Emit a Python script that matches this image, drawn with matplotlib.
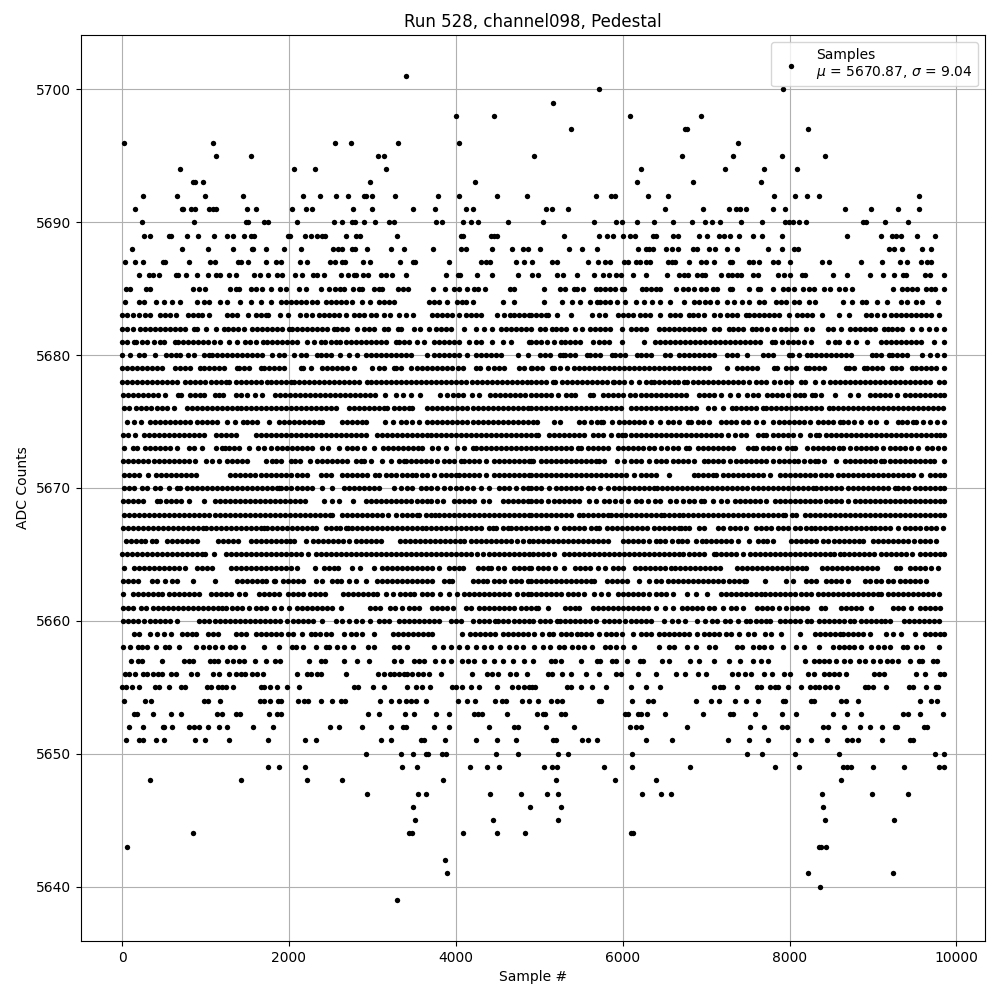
import matplotlib
matplotlib.use("Agg")
import matplotlib.pyplot as plt

# sample numbers, one list per ADC level
s5639 = [3296]
s5640 = [8364]
s5641 = [3896, 8220, 9240]
s5642 = [3872]
s5643 = [56, 8352, 8376, 8436]
s5644 = [848, 3440, 3476, 4088, 4496, 4832, 6096, 6120]
s5645 = [3512, 4448, 5220, 8424, 9252]
s5646 = [3488, 4892, 5256, 8400]
s5647 = [2936, 3548, 3644, 4412, 4784, 5088, 5220, 6228, 6456, 6576, 8388, 8988, 9420]
s5648 = [332, 1424, 2216, 2636, 3848, 5196, 5904, 6396, 8616]
s5649 = [1748, 1880, 2192, 3356, 3536, 4172, 4376, 4520, 5052, 5148, 5208, 5772, 6108, 6804, 7824, 8112, 8640, 8688, 8736, 9000, 9372, 9792, 9850]
s5650 = [2924, 3344, 3488, 3644, 3668, 3836, 3884, 4484, 4748, 5220, 5340, 6108, 7488, 7668, 8064, 8592, 9744, 9850]
s5651 = [44, 200, 248, 404, 500, 872, 992, 1280, 1748, 2192, 2324, 3104, 3224, 3584, 3620, 3872, 4244, 4496, 4724, 5160, 5196, 5508, 5580, 5688, 6276, 6588, 7260, 7512, 7740, 8100, 8256, 8448, 8688, 8748, 8820, 9108, 9444, 9480]
s5652 = [80, 248, 488, 500, 596, 800, 860, 920, 1028, 1160, 1256, 1568, 1808, 2492, 2600, 2876, 3224, 3368, 3404, 3740, 3920, 4400, 4700, 4748, 5076, 5412, 6084, 6156, 6216, 6768, 7524, 7692, 7908, 7968, 8400, 8460, 8652, 8844, 8964, 9108, 9264, 9288, 9612, 9648]
s5653 = [140, 176, 368, 584, 704, 1136, 1196, 1364, 1412, 1760, 1856, 1904, 2948, 3080, 3392, 3496, 3764, 3920, 4220, 4268, 4316, 4616, 4972, 5044, 5068, 5256, 5304, 6024, 6060, 6180, 6216, 6288, 6504, 6964, 7284, 7320, 7584, 7908, 8076, 8520, 8688, 8856, 9360, 9420, 9564, 9840]
s5654 = [20, 272, 344, 980, 1028, 1172, 1652, 1700, 1772, 1868, 1904, 2108, 2180, 2228, 2384, 2516, 2624, 2672, 3092, 3224, 3320, 3404, 3464, 3524, 3644, 4028, 4136, 4232, 4472, 4556, 4604, 4796, 4872, 4980, 5136, 5208, 5268, 5712, 5736, 6108, 6300, 6360, 6876, 7056, 7152, 7344, 7476, 7620, 7920, 7944, 8256, 8292, 8616, 8676, 8820, 9564, 9696, 9768]
s5655 = [0, 44, 116, 200, 392, 440, 560, 704, 752, 1016, 1064, 1148, 1196, 1244, 1328, 1664, 1700, 1772, 1852, 1976, 2120, 2780, 2828, 3008, 3140, 3416, 3524, 3596, 3692, 3956, 4004, 4076, 4184, 4280, 4496, 4676, 4748, 4820, 4880, 4908, 4944, 5328, 5376, 5496, 5628, 5796, 6096, 6276, 6444, 7092, 7164, 7200, 7368, 7608, 7656, 7764, 7824, 7860, 7980, 8136, 8244, 8304, 8352, 8424, 8484, 8568, 8904, 8940, 9000, 9156, 9432, 9480, 9636, 9756, 9780]
s5656 = [32, 80, 160, 248, 296, 368, 428, 476, 584, 644, 824, 896, 1088, 1160, 1280, 1364, 1424, 1472, 1556, 1616, 1688, 2096, 2216, 2264, 2336, 2384, 2684, 3068, 3140, 3212, 3260, 3320, 3380, 3416, 3476, 3548, 3608, 3680, 3824, 4196, 4376, 4436, 4508, 4652, 4724, 4856, 5100, 5148, 5268, 5376, 5556, 5712, 5916, 5976, 6180, 6396, 6636, 6744, 6900, 6996, 7308, 7380, 7464, 7536, 7692, 7788, 7932, 8004, 8220, 8292, 8412, 8472, 8532, 8592, 8676, 9012, 9072, 9132, 9516, 9624, 9804, 9850]
s5657 = [104, 188, 236, 476, 740, 800, 848, 1052, 1100, 1148, 1256, 1328, 1400, 1460, 1592, 1724, 1832, 1892, 2240, 2384, 2432, 2660, 2816, 2960, 3260, 3344, 3500, 3560, 3620, 3752, 3848, 3944, 4076, 4148, 4220, 4340, 4460, 4568, 4688, 4820, 4920, 5136, 5184, 5256, 5496, 5688, 5724, 5868, 5916, 6048, 6204, 6240, 6468, 6552, 6804, 6912, 7092, 7272, 7404, 7560, 7656, 7740, 8184, 8292, 8352, 8412, 8472, 8556, 8652, 8724, 8832, 8904, 9000, 9084, 9168, 9228, 9300, 9444, 9552, 9588, 9720, 9768]
s5658 = [8, 92, 188, 240, 296, 404, 512, 560, 680, 884, 968, 1040, 1112, 1196, 1292, 1352, 1448, 1700, 1880, 2036, 2084, 2168, 2324, 2444, 2480, 2576, 2660, 2768, 2948, 3020, 3260, 3320, 3416, 3740, 3848, 3944, 4040, 4136, 4240, 4340, 4424, 4532, 4640, 4724, 4808, 4932, 5040, 5124, 5232, 5292, 5392, 5460, 5532, 5628, 5784, 5844, 5916, 6000, 6140, 6432, 6552, 6612, 6768, 6876, 7032, 7104, 7368, 7428, 7560, 7632, 7692, 7776, 7920, 8076, 8172, 8352, 8520, 8592, 8652, 8712, 8772, 8856, 8976, 9060, 9132, 9204, 9360, 9408, 9516, 9588, 9792]
s5659 = [148, 208, 340, 420, 500, 588, 716, 776, 836, 892, 1028, 1088, 1148, 1360, 1420, 1480, 1608, 1668, 1728, 1788, 1848, 1900, 1988, 2050, 2160, 2268, 2308, 2370, 2440, 2500, 2660, 2748, 2808, 2880, 3020, 3248, 3308, 3368, 3428, 3488, 3548, 3608, 3670, 3720, 4080, 4168, 4228, 4288, 4348, 4408, 4464, 4560, 4620, 4680, 4740, 4800, 4860, 4940, 5032, 5112, 5168, 5260, 5320, 5380, 5450, 5500, 5560, 5620, 5710, 5800, 5860, 5920, 5990, 6120, 6220, 6280, 6340, 6440, 6500, 6560, 6620, 6680, 6740, 6800, 6890, 6980, 7040, 7100, 7160, 7240, 7300, 7390, 7500, 7572, 7700, 7780, 7900, 8120, 8300, 8360, 8420, 8480, 8540, 8600, 8640, 8700, 8760, 8820, 8880, 8960, 9160, 9240, 9330, 9500, 9620, 9680, 9740, 9800, 9850]
s5660 = [8, 68, 128, 188, 260, 336, 396, 456, 516, 576, 660, 928, 988, 1048, 1108, 1168, 1228, 1288, 1348, 1408, 1468, 1528, 1588, 1648, 1708, 1768, 1828, 1888, 1980, 2052, 2112, 2172, 2232, 2292, 2400, 2560, 2640, 2720, 2800, 2880, 2972, 3080, 3140, 3200, 3320, 3380, 3440, 3500, 3560, 3620, 3680, 3740, 3800, 3948, 4004, 4064, 4208, 4280, 4340, 4400, 4470, 4500, 4560, 4620, 4700, 4760, 4820, 4880, 4920, 5012, 5072, 5132, 5212, 5252, 5312, 5372, 5432, 5492, 5552, 5612, 5680, 5772, 5840, 5900, 5960, 6024, 6100, 6160, 6220, 6280, 6340, 6490, 6590, 6664, 6752, 6892, 6985, 7072, 7132, 7230, 7280, 7380, 7480, 7530, 7600, 7660, 7720, 7768, 7880, 7940, 8000, 8060, 8120, 8210, 8258, 8356, 8416, 8476, 8536, 8596, 8656, 8720, 8770, 8860, 8920, 8980, 9040, 9100, 9140, 9200, 9372, 9430, 9490, 9550, 9610, 9670, 9730, 9792]
s5661 = [8, 68, 128, 228, 288, 368, 428, 488, 548, 608, 668, 728, 788, 848, 908, 968, 1028, 1088, 1148, 1200, 1248, 1320, 1376, 1432, 1520, 1600, 1660, 1728, 1816, 1900, 2000, 2092, 2152, 2212, 2272, 2332, 2392, 2452, 2516, 2628, 2976, 3036, 3096, 3216, 3272, 3360, 3440, 3500, 3560, 3720, 3780, 3840, 3900, 3968, 4120, 4180, 4276, 4336, 4396, 4456, 4516, 4576, 4636, 4696, 4780, 4840, 4900, 4960, 4990, 5104, 5304, 5364, 5424, 5480, 5640, 5700, 5760, 5820, 5880, 5940, 6000, 6060, 6120, 6180, 6240, 6300, 6396, 6508, 6608, 6712, 6772, 6832, 6892, 6952, 7040, 7100, 7204, 7300, 7360, 7444, 7612, 7672, 7732, 7792, 7872, 7960, 8032, 8092, 8152, 8208, 8372, 8420, 8620, 8680, 8740, 8800, 8860, 8972, 9240, 9300, 9360, 9452, 9560, 9620, 9680, 9740, 9800]
s5662 = [8, 128, 188, 248, 308, 368, 428, 480, 568, 628, 688, 748, 808, 868, 928, 1068, 1128, 1188, 1248, 1304, 1400, 1472, 1640, 1700, 1760, 1820, 1880, 1990, 2050, 2110, 2168, 2256, 2316, 2376, 2432, 2648, 2708, 2768, 2828, 2888, 2948, 3008, 3060, 3160, 3248, 3328, 3388, 3448, 3500, 3596, 3656, 3710, 3808, 3920, 4012, 4100, 4160, 4220, 4280, 4340, 4400, 4460, 4520, 4580, 4640, 4732, 4800, 4860, 4900, 4960, 5020, 5080, 5140, 5200, 5260, 5344, 5404, 5460, 5540, 5652, 5736, 5820, 5940, 6000, 6060, 6120, 6180, 6240, 6320, 6400, 6460, 6520, 6600, 6768, 6880, 7016, 7176, 7236, 7300, 7352, 7412, 7472, 7532, 7592, 7652, 7704, 7760, 7824, 7884, 7940, 8000, 8060, 8136, 8196, 8256, 8340, 8400, 8460, 8520, 8580, 8640, 8700, 8760, 8820, 8880, 8940, 9000, 9060, 9100, 9184, 9244, 9304, 9364, 9424, 9484, 9544, 9604, 9664, 9724, 9790]
s5663 = [8, 68, 128, 192, 364, 416, 520, 600, 660, 848, 1108, 1380, 1440, 1500, 1560, 1620, 1680, 1720, 1816, 1832, 1932, 1992, 2052, 2112, 2168, 2328, 2400, 2520, 2572, 2628, 2720, 2800, 2920, 3060, 3120, 3180, 3240, 3300, 3360, 3420, 3480, 3540, 3600, 3660, 3720, 3860, 3920, 3960, 4200, 4260, 4320, 4372, 4460, 4520, 4580, 4660, 4720, 4780, 4860, 4900, 4960, 5020, 5080, 5140, 5200, 5260, 5320, 5380, 5440, 5500, 5560, 5620, 5660, 5812, 5872, 5932, 5992, 6052, 6200, 6320, 6400, 6460, 6544, 6604, 6664, 6724, 6784, 6844, 6908, 6968, 7028, 7088, 7148, 7208, 7268, 7328, 7388, 7448, 7480, 7700, 7960, 8040, 8200, 8260, 8320, 8440, 8500, 8560, 8620, 8700, 8900, 8960, 9040, 9100, 9180, 9240, 9320, 9380, 9440, 9500, 9560, 9630]
s5664 = [28, 148, 208, 268, 328, 388, 448, 508, 568, 628, 688, 760, 904, 964, 1024, 1080, 1300, 1360, 1420, 1480, 1540, 1600, 1660, 1720, 1780, 1840, 1900, 1960, 2020, 2100, 2318, 2416, 2476, 2536, 2590, 2760, 2848, 3020, 3120, 3180, 3240, 3300, 3360, 3420, 3480, 3540, 3600, 3660, 3720, 3800, 3920, 3980, 4040, 4090, 4260, 4320, 4380, 4420, 4500, 4580, 4700, 4760, 4820, 4880, 4900, 4980, 5040, 5104, 5192, 5300, 5428, 5488, 5548, 5608, 5700, 5792, 5884, 5948, 6000, 6148, 6208, 6268, 6328, 6388, 6448, 6508, 6580, 6628, 6688, 6748, 6808, 6868, 6928, 6988, 7048, 7108, 7172, 7368, 7428, 7488, 7548, 7608, 7668, 7728, 7788, 7848, 7908, 7968, 8028, 8088, 8148, 8200, 8392, 8452, 8512, 8572, 8632, 8692, 8752, 8812, 8872, 8932, 8992, 9050, 9270, 9320, 9440, 9500, 9560, 9620, 9690, 9780]
s5665 = [0, 60, 120, 180, 240, 300, 360, 420, 480, 540, 600, 660, 720, 780, 840, 900, 960, 1000, 1100, 1240, 1300, 1360, 1420, 1480, 1540, 1600, 1660, 1720, 1780, 1840, 1900, 1960, 2020, 2080, 2140, 2230, 2320, 2380, 2440, 2500, 2560, 2620, 2680, 2740, 2800, 2860, 2920, 2980, 3040, 3100, 3160, 3220, 3280, 3340, 3400, 3460, 3520, 3580, 3640, 3700, 3760, 3820, 3880, 3940, 4000, 4060, 4120, 4180, 4250, 4320, 4400, 4460, 4520, 4580, 4640, 4700, 4760, 4820, 4880, 4920, 4980, 5040, 5100, 5180, 5296, 5356, 5416, 5476, 5536, 5596, 5656, 5716, 5776, 5836, 5896, 5956, 6016, 6076, 6140, 6200, 6260, 6320, 6380, 6440, 6500, 6560, 6620, 6680, 6720, 6792, 6850, 6910, 6980, 7090, 7120, 7180, 7240, 7300, 7360, 7440, 7520, 7580, 7640, 7700, 7760, 7820, 7880, 7940, 8000, 8060, 8120, 8180, 8240, 8300, 8370, 8420, 8480, 8530, 8600, 8650, 8710, 8770, 8830, 8890, 8950, 9010, 9100, 9160, 9220, 9280, 9340, 9400, 9470, 9560, 9620, 9680, 9740, 9800, 9850]
s5666 = [48, 108, 168, 228, 280, 360, 412, 536, 596, 656, 716, 776, 836, 896, 1148, 1208, 1268, 1328, 1388, 1540, 1600, 1660, 1720, 1780, 1840, 1900, 1960, 2012, 2060, 2200, 2292, 2350, 2410, 2470, 2530, 2590, 2650, 2720, 2808, 2868, 2928, 2988, 3048, 3108, 3328, 3388, 3448, 3508, 3568, 3628, 3688, 3748, 3808, 3868, 3928, 3988, 4048, 4100, 4180, 4240, 4300, 4360, 4420, 4480, 4540, 4600, 4660, 4730, 4800, 4880, 4920, 4990, 5044, 5104, 5164, 5224, 5284, 5344, 5404, 5464, 5524, 5584, 5644, 5704, 5764, 5824, 6000, 6060, 6120, 6180, 6240, 6320, 6400, 6450, 6510, 6590, 6668, 6708, 6768, 6880, 6950, 7004, 7064, 7124, 7184, 7244, 7300, 7380, 7512, 7620, 7680, 7730, 7800, 8020, 8080, 8140, 8200, 8260, 8320, 8400, 8460, 8530, 8590, 8650, 8710, 8770, 8830, 8880, 9000, 9060, 9120, 9180, 9240, 9300, 9360, 9420, 9490, 9560, 9620, 9680, 9760]
s5667 = [8, 68, 128, 188, 248, 308, 368, 428, 488, 548, 608, 668, 728, 788, 848, 908, 968, 1008, 1064, 1124, 1184, 1244, 1304, 1364, 1424, 1484, 1544, 1604, 1664, 1700, 1740, 1800, 1860, 1920, 1980, 2040, 2100, 2160, 2220, 2280, 2320, 2448, 2508, 2568, 2608, 2680, 2708, 2760, 2820, 2880, 2940, 3000, 3060, 3120, 3180, 3240, 3300, 3360, 3420, 3480, 3540, 3600, 3640, 3700, 3760, 3820, 3880, 3940, 4000, 4060, 4120, 4180, 4240, 4300, 4400, 4440, 4480, 4560, 4620, 4660, 4720, 4780, 4840, 4900, 4960, 5020, 5080, 5110, 5200, 5292, 5352, 5412, 5472, 5532, 5620, 5680, 5720, 5810, 5870, 5930, 5990, 6050, 6110, 6170, 6230, 6290, 6370, 6430, 6490, 6550, 6610, 6670, 6700, 6748, 6800, 6912, 6980, 7140, 7200, 7280, 7340, 7400, 7480, 7600, 7660, 7720, 7780, 7860, 7920, 7980, 8060, 8120, 8200, 8260, 8300, 8360, 8420, 8480, 8500, 8560, 8620, 8680, 8740, 8800, 8860, 8920, 8980, 9020, 9080, 9140, 9200, 9300, 9380, 9440, 9500, 9560, 9640, 9700, 9760, 9840]
s5668 = [28, 88, 148, 208, 268, 328, 388, 448, 508, 568, 628, 688, 748, 808, 868, 928, 988, 1048, 1108, 1168, 1228, 1288, 1348, 1408, 1468, 1528, 1588, 1648, 1708, 1768, 1828, 1888, 1948, 2008, 2068, 2128, 2188, 2248, 2308, 2368, 2428, 2488, 2520, 2640, 2700, 2760, 2820, 2880, 2940, 3000, 3060, 3120, 3188, 3280, 3360, 3420, 3480, 3540, 3560, 3640, 3700, 3752, 3800, 3860, 3920, 3980, 4040, 4100, 4160, 4220, 4280, 4340, 4400, 4460, 4520, 4580, 4640, 4700, 4760, 4820, 4880, 4900, 4960, 5020, 5080, 5140, 5200, 5260, 5320, 5380, 5480, 5520, 5580, 5640, 5700, 5760, 5820, 5860, 5920, 5980, 6040, 6100, 6160, 6220, 6280, 6340, 6400, 6460, 6500, 6560, 6620, 6680, 6720, 6780, 6840, 6900, 6960, 7020, 7080, 7140, 7200, 7260, 7320, 7380, 7440, 7500, 7560, 7620, 7680, 7740, 7800, 7860, 7920, 7944, 8032, 8080, 8180, 8240, 8300, 8360, 8420, 8480, 8540, 8600, 8660, 8720, 8780, 8840, 8900, 8960, 9020, 9080, 9140, 9200, 9260, 9320, 9380, 9440, 9500, 9560, 9620, 9680, 9740, 9800, 9850]
s5669 = [8, 68, 128, 188, 250, 420, 460, 530, 590, 650, 710, 800, 988, 1108, 1168, 1228, 1288, 1348, 1408, 1468, 1528, 1588, 1648, 1708, 1768, 1828, 1888, 1948, 2008, 2068, 2128, 2188, 2420, 2520, 2600, 2768, 2928, 2988, 3048, 3108, 3168, 3228, 3288, 3348, 3408, 3468, 3540, 3600, 3660, 3700, 3780, 3850, 3980, 4040, 4100, 4160, 4220, 4320, 4400, 4560, 4620, 4680, 4740, 4800, 4860, 4900, 4960, 5020, 5100, 5176, 5240, 5300, 5360, 5420, 5480, 5592, 5680, 5772, 5840, 5910, 5980, 6060, 6160, 6220, 6300, 6392, 6448, 6570, 6640, 6720, 6790, 6852, 6940, 6980, 7080, 7180, 7252, 7340, 7400, 7460, 7520, 7580, 7640, 7720, 7820, 7880, 7940, 8000, 8060, 8120, 8180, 8240, 8300, 8370, 8440, 8500, 8560, 8620, 8700, 8780, 8840, 8900, 8960, 9020, 9080, 9140, 9200, 9260, 9320, 9380, 9440, 9500, 9560, 9620, 9680, 9740, 9800, 9850]
s5670 = [28, 88, 148, 240, 300, 400, 450, 560, 660, 700, 776, 836, 896, 956, 1016, 1076, 1136, 1196, 1256, 1316, 1376, 1436, 1496, 1556, 1616, 1676, 1736, 1796, 1856, 1880, 1900, 1960, 2020, 2100, 2160, 2220, 2280, 2400, 2520, 2660, 2720, 2780, 2840, 2900, 2960, 3020, 3080, 3260, 3340, 3420, 3480, 3580, 3640, 3700, 3780, 3860, 3930, 4000, 4060, 4140, 4200, 4300, 4400, 4520, 4580, 4640, 4720, 4800, 4860, 4900, 4960, 5020, 5120, 5200, 5260, 5320, 5380, 5440, 5500, 5580, 5650, 5730, 5820, 5900, 5960, 6020, 6080, 6140, 6200, 6260, 6320, 6372, 6412, 6472, 6532, 6592, 6652, 6712, 6772, 6832, 6892, 6952, 7012, 7072, 7132, 7192, 7252, 7312, 7372, 7432, 7492, 7560, 7620, 7680, 7740, 7800, 7860, 7920, 7980, 8040, 8100, 8160, 8220, 8280, 8316, 8380, 8440, 8500, 8560, 8620, 8700, 8760, 8820, 8880, 8940, 9000, 9060, 9120, 9180, 9260, 9300, 9360, 9420, 9500, 9560, 9620, 9680, 9740, 9800, 9850]
s5671 = [28, 88, 148, 208, 308, 412, 472, 532, 588, 652, 712, 772, 832, 888, 1292, 1352, 1412, 1472, 1532, 1592, 1660, 1720, 1780, 1840, 1900, 1960, 2020, 2100, 2160, 2220, 2380, 2440, 2500, 2640, 2700, 2760, 2820, 2880, 2940, 3030, 3080, 3160, 3220, 3280, 3360, 3420, 3480, 3520, 3600, 3660, 3740, 3820, 3880, 3940, 4000, 4040, 4100, 4160, 4220, 4280, 4360, 4460, 4520, 4580, 4640, 4700, 4760, 4820, 4880, 4900, 4960, 5020, 5080, 5140, 5200, 5260, 5320, 5380, 5440, 5500, 5560, 5620, 5680, 5740, 5800, 5860, 5920, 5980, 6040, 6130, 6220, 6280, 6340, 6400, 6560, 6860, 6900, 6960, 7020, 7080, 7120, 7200, 7260, 7320, 7380, 7440, 7500, 7560, 7620, 7680, 7770, 7880, 7940, 8000, 8060, 8120, 8180, 8240, 8300, 8380, 8440, 8500, 8580, 8640, 8700, 8760, 8820, 8880, 8940, 9000, 9060, 9120, 9180, 9240, 9300, 9360, 9420, 9480, 9580, 9680, 9740, 9800, 9850]
s5672 = [8, 68, 128, 188, 248, 308, 380, 444, 504, 564, 624, 684, 744, 804, 872, 1012, 1072, 1160, 1260, 1320, 1380, 1440, 1500, 1720, 1800, 1840, 1900, 2020, 2068, 2128, 2250, 2340, 2400, 2460, 2520, 2580, 2640, 2700, 2800, 2860, 2900, 2980, 3120, 3220, 3320, 3380, 3400, 3460, 3520, 3580, 3640, 3700, 3770, 3860, 3920, 3980, 4060, 4100, 4160, 4220, 4280, 4360, 4460, 4520, 4580, 4640, 4700, 4760, 4820, 4880, 4900, 4930, 5020, 5080, 5140, 5200, 5260, 5320, 5380, 5440, 5500, 5560, 5620, 5680, 5720, 5780, 5932, 6020, 6100, 6160, 6220, 6320, 6400, 6460, 6520, 6600, 6660, 6720, 6780, 6860, 6970, 7020, 7080, 7140, 7200, 7280, 7360, 7420, 7480, 7540, 7600, 7660, 7720, 7800, 7870, 7930, 7990, 8050, 8100, 8170, 8240, 8300, 8340, 8416, 8560, 8660, 8720, 8780, 8840, 8900, 8960, 9020, 9090, 9130, 9200, 9260, 9320, 9380, 9440, 9500, 9560, 9620, 9680, 9730, 9850]
s5673 = [20, 128, 180, 280, 340, 400, 460, 520, 580, 660, 808, 868, 960, 1120, 1200, 1232, 1280, 1340, 1400, 1520, 1632, 1700, 1780, 1860, 1920, 1980, 2040, 2100, 2160, 2220, 2280, 2400, 2468, 2600, 2700, 2760, 2820, 2900, 3020, 3132, 3188, 3248, 3308, 3368, 3428, 3488, 3548, 3600, 3720, 3792, 3880, 4020, 4100, 4200, 4240, 4300, 4360, 4420, 4480, 4540, 4600, 4660, 4720, 4780, 4840, 4900, 4960, 5020, 5080, 5140, 5200, 5260, 5320, 5380, 5464, 5500, 5580, 5640, 5700, 5760, 5820, 5940, 6000, 6060, 6120, 6180, 6240, 6320, 6380, 6460, 6530, 6600, 6660, 6760, 6800, 6900, 6960, 7020, 7080, 7140, 7200, 7260, 7320, 7500, 7560, 7600, 7680, 7740, 7800, 7870, 7970, 8030, 8060, 8210, 8280, 8340, 8400, 8460, 8520, 8590, 8640, 8720, 8800, 8860, 8920, 8980, 9040, 9120, 9200, 9260, 9320, 9380, 9450, 9540, 9650, 9710, 9780, 9850]
s5674 = [16, 76, 160, 260, 320, 380, 440, 500, 560, 620, 680, 740, 800, 860, 920, 980, 1120, 1180, 1240, 1300, 1360, 1600, 1660, 1720, 1780, 1840, 1900, 1960, 2020, 2080, 2140, 2200, 2260, 2320, 2380, 2440, 2500, 2560, 2620, 2680, 2740, 2800, 2860, 2920, 3060, 3120, 3180, 3240, 3300, 3360, 3420, 3480, 3540, 3600, 3660, 3700, 3760, 3820, 3880, 3940, 4000, 4060, 4120, 4180, 4240, 4300, 4360, 4420, 4480, 4540, 4600, 4660, 4720, 4780, 4840, 4900, 4960, 4980, 5112, 5172, 5232, 5292, 5352, 5412, 5472, 5540, 5640, 5700, 5760, 5860, 5940, 5990, 6024, 6100, 6160, 6220, 6280, 6340, 6400, 6460, 6520, 6580, 6640, 6700, 6760, 6820, 6880, 6940, 7000, 7060, 7120, 7180, 7260, 7340, 7420, 7480, 7620, 7680, 7720, 7800, 7860, 7920, 7980, 8040, 8130, 8240, 8320, 8350, 8440, 8500, 8560, 8620, 8680, 8740, 8800, 8860, 8920, 8980, 9040, 9100, 9160, 9220, 9280, 9340, 9400, 9460, 9520, 9580, 9640, 9700, 9750, 9800, 9850]
s5675 = [60, 140, 232, 340, 400, 460, 520, 580, 640, 700, 760, 820, 900, 960, 1020, 1080, 1140, 1260, 1348, 1444, 1500, 1560, 1620, 1760, 1880, 1940, 2000, 2060, 2120, 2180, 2240, 2300, 2360, 2400, 2640, 2700, 2760, 2820, 2880, 2920, 3148, 3250, 3344, 3400, 3480, 3564, 3660, 3720, 3780, 3840, 3900, 3960, 4020, 4080, 4140, 4200, 4260, 4320, 4380, 4440, 4500, 4560, 4620, 4680, 4740, 4800, 4860, 4920, 4970, 5180, 5250, 5480, 5540, 5620, 5690, 5740, 5760, 5870, 5960, 6020, 6080, 6140, 6200, 6260, 6340, 6450, 6540, 6600, 6680, 6780, 6820, 6900, 6960, 7040, 7176, 7240, 7300, 7360, 7440, 7500, 7600, 7680, 7800, 7870, 7930, 7990, 8050, 8110, 8170, 8250, 8340, 8400, 8460, 8520, 8600, 8640, 8700, 8770, 8850, 8960, 9040, 9160, 9300, 9350, 9412, 9480, 9520, 9600, 9680, 9770, 9850]
s5676 = [28, 88, 168, 232, 292, 352, 420, 480, 540, 620, 780, 840, 900, 960, 1020, 1080, 1140, 1200, 1260, 1320, 1380, 1420, 1480, 1540, 1600, 1660, 1720, 1780, 1840, 1900, 1960, 2020, 2080, 2140, 2200, 2260, 2320, 2380, 2440, 2500, 2560, 2720, 2780, 2840, 2900, 2960, 3020, 3080, 3140, 3180, 3260, 3320, 3380, 3440, 3480, 3660, 3720, 3780, 3840, 3900, 3960, 4020, 4080, 4140, 4200, 4260, 4320, 4380, 4440, 4500, 4560, 4620, 4680, 4740, 4800, 4860, 4900, 4960, 5020, 5080, 5140, 5200, 5260, 5320, 5380, 5440, 5500, 5560, 5620, 5680, 5740, 5800, 5860, 5920, 5980, 6100, 6160, 6220, 6280, 6340, 6400, 6460, 6520, 6580, 6640, 6700, 6760, 6820, 6880, 7020, 7100, 7200, 7310, 7360, 7420, 7480, 7540, 7600, 7680, 7720, 7780, 7840, 7900, 7960, 8020, 8080, 8140, 8200, 8260, 8320, 8380, 8470, 8520, 8580, 8640, 8700, 8760, 8820, 8880, 8940, 9000, 9060, 9120, 9180, 9240, 9300, 9360, 9420, 9480, 9540, 9600, 9660, 9720, 9780, 9840]
s5677 = [8, 68, 128, 188, 248, 308, 368, 428, 512, 668, 704, 816, 876, 936, 984, 1108, 1160, 1212, 1368, 1430, 1492, 1596, 1680, 1836, 1896, 1956, 2016, 2076, 2136, 2196, 2256, 2316, 2376, 2436, 2496, 2556, 2616, 2676, 2736, 2796, 2856, 2916, 2976, 3032, 3150, 3280, 3372, 3462, 3572, 3808, 3892, 3968, 4030, 4092, 4188, 4280, 4408, 4468, 4528, 4588, 4648, 4708, 4768, 4828, 4900, 4960, 5020, 5080, 5140, 5224, 5320, 5380, 5432, 5608, 5644, 5768, 5828, 5888, 5948, 6008, 6084, 6144, 6220, 6280, 6340, 6400, 6460, 6520, 6580, 6640, 6700, 6764, 6920, 6980, 7040, 7100, 7184, 7288, 7384, 7488, 7556, 7624, 7732, 7792, 7852, 7912, 7984, 8060, 8120, 8176, 8272, 8304, 8372, 8540, 8720, 8820, 8960, 9020, 9080, 9140, 9200, 9284, 9380, 9440, 9500, 9560, 9620, 9680, 9740, 9800, 9850]
s5678 = [0, 60, 120, 180, 240, 300, 360, 420, 480, 540, 600, 660, 760, 820, 880, 940, 1000, 1060, 1120, 1180, 1240, 1280, 1360, 1420, 1480, 1540, 1600, 1660, 1740, 1780, 1840, 1900, 1960, 2028, 2060, 2120, 2180, 2240, 2300, 2360, 2420, 2480, 2540, 2600, 2660, 2720, 2780, 2840, 2940, 2988, 3048, 3108, 3168, 3228, 3288, 3348, 3408, 3468, 3528, 3588, 3648, 3708, 3768, 3828, 3888, 3948, 4008, 4068, 4128, 4188, 4248, 4308, 4368, 4428, 4488, 4548, 4608, 4668, 4728, 4788, 4848, 4900, 4960, 5020, 5080, 5160, 5192, 5272, 5332, 5392, 5452, 5512, 5572, 5632, 5692, 5752, 5812, 5880, 5900, 5960, 6020, 6100, 6200, 6280, 6340, 6380, 6440, 6500, 6560, 6620, 6660, 6740, 6768, 6840, 6900, 6960, 7020, 7080, 7140, 7200, 7260, 7320, 7380, 7440, 7512, 7592, 7652, 7720, 7812, 7880, 7952, 8016, 8140, 8180, 8300, 8400, 8480, 8540, 8600, 8660, 8720, 8780, 8840, 8900, 8960, 9020, 9080, 9140, 9200, 9260, 9320, 9380, 9440, 9500, 9560, 9620, 9680, 9790, 9850]
s5679 = [0, 60, 120, 180, 240, 300, 360, 420, 480, 640, 692, 752, 812, 940, 980, 1040, 1100, 1160, 1220, 1380, 1400, 1460, 1520, 1660, 1700, 1760, 1820, 1880, 1940, 2140, 2168, 2268, 2400, 2460, 2520, 2580, 2640, 2700, 2780, 3000, 3080, 3140, 3260, 3280, 3340, 3460, 3540, 3600, 3660, 3720, 3780, 3840, 3900, 3960, 4032, 4092, 4240, 4292, 4380, 4460, 4520, 4580, 4760, 4820, 4900, 4912, 4972, 5032, 5152, 5180, 5252, 5332, 5412, 5472, 5532, 5592, 5652, 5712, 5772, 5832, 5892, 5952, 6012, 6072, 6132, 6192, 6252, 6312, 6372, 6432, 6492, 6552, 6612, 6672, 6732, 6792, 6852, 6912, 6972, 7032, 7252, 7372, 7432, 7492, 7552, 7612, 7812, 7852, 7952, 8012, 8072, 8192, 8232, 8292, 8352, 8412, 8672, 8712, 8772, 8892, 8932, 8992, 9052, 9112, 9232, 9272, 9332, 9472, 9512, 9572, 9632, 9692, 9752, 9850]
s5680 = [0, 100, 200, 260, 400, 528, 588, 652, 700, 788, 860, 980, 1040, 1080, 1140, 1200, 1260, 1320, 1380, 1440, 1500, 1560, 1620, 1680, 1800, 1880, 1940, 2060, 2140, 2200, 2340, 2388, 2448, 2508, 2608, 2720, 2820, 2920, 2980, 3040, 3100, 3160, 3220, 3280, 3340, 3400, 3460, 3660, 3740, 3800, 3860, 3920, 3980, 4040, 4140, 4240, 4300, 4360, 4420, 4480, 4540, 4740, 4860, 5012, 5072, 5132, 5252, 5280, 5312, 5372, 5432, 5572, 5612, 5672, 5732, 5872, 5912, 5972, 6032, 6172, 6220, 6280, 6340, 6512, 6572, 6672, 6732, 6792, 6852, 6912, 6972, 7032, 7092, 7252, 7312, 7372, 7492, 7680, 7740, 7800, 7992, 8032, 8112, 8212, 8252, 8312, 8372, 8432, 8492, 8552, 8612, 8672, 8732, 8992, 9032, 9092, 9192, 9232, 9292, 9352, 9412, 9592, 9684, 9772, 9850]
s5681 = [0, 60, 140, 172, 240, 300, 380, 452, 500, 640, 668, 728, 788, 848, 908, 968, 1028, 1100, 1172, 1280, 1380, 1468, 1528, 1600, 1692, 1740, 1800, 1860, 1920, 1980, 2040, 2100, 2212, 2300, 2380, 2428, 2500, 2560, 2612, 2680, 2740, 2800, 2860, 2920, 2980, 3040, 3100, 3160, 3280, 3320, 3380, 3440, 3532, 3620, 3740, 3800, 3860, 3920, 3980, 4040, 4160, 4240, 4300, 4428, 4560, 4660, 4880, 4900, 4960, 5020, 5092, 5172, 5260, 5312, 5372, 5432, 5492, 5640, 5712, 5772, 5832, 5992, 6252, 6384, 6444, 6504, 6564, 6624, 6684, 6744, 6804, 6864, 6924, 6984, 7044, 7104, 7164, 7224, 7284, 7344, 7404, 7464, 7524, 7584, 7644, 7792, 7820, 7912, 7980, 8040, 8100, 8172, 8252, 8460, 8540, 8592, 8700, 8792, 8932, 9092, 9152, 9212, 9272, 9332, 9392, 9452, 9512, 9572, 9732, 9850]
s5682 = [0, 60, 132, 220, 280, 340, 400, 460, 520, 580, 640, 700, 760, 868, 900, 1004, 1120, 1220, 1268, 1328, 1388, 1460, 1560, 1620, 1680, 1740, 1800, 1860, 1920, 2000, 2040, 2100, 2160, 2220, 2280, 2340, 2400, 2460, 2540, 2580, 2640, 2700, 2820, 2900, 2960, 3020, 3140, 3188, 3308, 3348, 3500, 3572, 3680, 3760, 3820, 3880, 3940, 4100, 4240, 4332, 4428, 4540, 4600, 4660, 4720, 4780, 4840, 4900, 5012, 5072, 5152, 5204, 5264, 5324, 5432, 5512, 5612, 5672, 5732, 5792, 5852, 5992, 6100, 6160, 6220, 6280, 6432, 6500, 6560, 6620, 6680, 6740, 6800, 6860, 6920, 6980, 7092, 7152, 7272, 7324, 7384, 7444, 7552, 7592, 7652, 7732, 7812, 7900, 7960, 8020, 8080, 8192, 8264, 8460, 8520, 8612, 8720, 8780, 8840, 8900, 8960, 9020, 9132, 9180, 9232, 9292, 9352, 9472, 9572, 9672, 9752, 9850]
s5683 = [0, 60, 132, 200, 280, 340, 452, 512, 572, 652, 788, 848, 908, 960, 1048, 1260, 1320, 1380, 1508, 1600, 1660, 1720, 1752, 1892, 1988, 2132, 2200, 2280, 2360, 2420, 2480, 2540, 2600, 2680, 2780, 2840, 2900, 2980, 3040, 3140, 3212, 3320, 3400, 3488, 3720, 3780, 3840, 3900, 3960, 4040, 4120, 4180, 4240, 4300, 4488, 4580, 4652, 4700, 4760, 4820, 4880, 4900, 4960, 5020, 5080, 5110, 5212, 5376, 5632, 5712, 5792, 5940, 6000, 6060, 6120, 6212, 6272, 6332, 6444, 6564, 6624, 6684, 6792, 6844, 6904, 6972, 7092, 7172, 7252, 7312, 7372, 7472, 7512, 7572, 7632, 7692, 7752, 7812, 7872, 7992, 8092, 8152, 8212, 8272, 8392, 8592, 8712, 8912, 8972, 9052, 9132, 9212, 9272, 9332, 9392, 9452, 9512, 9572, 9632, 9692, 9792]
s5684 = [32, 200, 260, 412, 500, 600, 692, 900, 980, 1040, 1172, 1252, 1408, 1548, 1660, 1780, 1900, 1960, 2020, 2080, 2140, 2200, 2272, 2340, 2440, 2500, 2560, 2620, 2680, 2760, 2880, 2972, 3080, 3140, 3200, 3260, 3680, 3740, 3800, 3900, 4020, 4080, 4120, 4208, 4568, 4700, 5052, 5272, 5392, 5484, 5612, 5692, 5732, 5792, 5852, 5932, 6024, 6160, 6256, 6352, 6452, 6564, 6732, 6852, 6912, 6992, 7052, 7132, 7252, 7332, 7432, 7512, 7632, 7692, 7832, 7892, 7952, 8052, 8112, 8232, 8304, 8640, 8752, 8872, 8912, 9052, 9172, 9332, 9412, 9512, 9592, 9780]
s5685 = [44, 92, 284, 332, 848, 920, 992, 1292, 1364, 1400, 1544, 1604, 1676, 1780, 1892, 1964, 2120, 2204, 2388, 2480, 2552, 2612, 2660, 2768, 2840, 2876, 3020, 3080, 3116, 3308, 3368, 3428, 3728, 3872, 3980, 4040, 4136, 4220, 4268, 4352, 4652, 4700, 5052, 5244, 5304, 5412, 5448, 5520, 5676, 5724, 5784, 5844, 5904, 5988, 6012, 6228, 6276, 6336, 6396, 6444, 6636, 6720, 6780, 6852, 6936, 6996, 7080, 7128, 7284, 7308, 7512, 7620, 7644, 7800, 7920, 7980, 8052, 8160, 8232, 8292, 8412, 8484, 8592, 8664, 8748, 9240, 9348, 9408, 9468, 9528, 9636, 9696, 9744, 9850]
s5686 = [200, 320, 368, 440, 644, 668, 764, 896, 1028, 1124, 1172, 1280, 1364, 1580, 1652, 1748, 1856, 1916, 2072, 2156, 2288, 2336, 2420, 2624, 2708, 2780, 2804, 2888, 2948, 3104, 3164, 3236, 3404, 3884, 4028, 4052, 4256, 4436, 4748, 4908, 4980, 5208, 5280, 5448, 5652, 5760, 5832, 5916, 5976, 6120, 6276, 6528, 6672, 6732, 6780, 6888, 6948, 6984, 7176, 7260, 7308, 7368, 7416, 7560, 7620, 7860, 7932, 8004, 8148, 8184, 8520, 8688, 8964, 9120, 9252, 9360, 9396, 9624, 9684, 9850]
s5687 = [32, 152, 248, 488, 512, 800, 1052, 1116, 1388, 1424, 1508, 1724, 1844, 1904, 2132, 2216, 2492, 2552, 2636, 2672, 2888, 2972, 3332, 3488, 3512, 3920, 4304, 4364, 4412, 4724, 4820, 4908, 5148, 5208, 5580, 5700, 5784, 5844, 6012, 6060, 6156, 6208, 6276, 6324, 6540, 6588, 6624, 6792, 6936, 6996, 7092, 7284, 7308, 7512, 7560, 7632, 7800, 7860, 8004, 8388, 8472, 8856, 9108, 9324, 9408, 9576, 9648, 9696]
s5688 = [116, 716, 1028, 1328, 1556, 1572, 1724, 1940, 2144, 2528, 2588, 2636, 2756, 2792, 2936, 3224, 3380, 3728, 4064, 4124, 4436, 4676, 4808, 4860, 5004, 5352, 5508, 5688, 6180, 6276, 6312, 6360, 6516, 6588, 6660, 6840, 6888, 7032, 7104, 7248, 7368, 7740, 7908, 8052, 8100, 9192, 9252, 9348, 9588, 9696]
s5689 = [260, 332, 560, 584, 776, 908, 1100, 1256, 1328, 1460, 1544, 1580, 1988, 2012, 2192, 2264, 2336, 2396, 2432, 2684, 2804, 2852, 3296, 4064, 4088, 4424, 4460, 4496, 5292, 5712, 5808, 5880, 6000, 6084, 6144, 6360, 6396, 6600, 6660, 6912, 7008, 7152, 7212, 7284, 7392, 7560, 7668, 7908, 8688, 9096, 9228, 9276, 9336, 9528, 9744]
s5690 = [236, 860, 1480, 1508, 1700, 1752, 2096, 2540, 2636, 2756, 2792, 2900, 3032, 3200, 3260, 3764, 3836, 4088, 4184, 4268, 4628, 5040, 5652, 5916, 5988, 6168, 6372, 6600, 6828, 6984, 7068, 7164, 7416, 7668, 7944, 7992, 8040, 8112, 8196, 8880, 8916, 9144, 9420]
s5691 = [152, 716, 732, 824, 872, 1040, 1088, 1128, 1496, 1604, 2036, 2204, 2276, 2768, 2996, 3488, 3752, 4124, 4208, 5076, 5148, 5340, 6504, 6960, 7272, 7356, 7404, 7476, 7800, 7944, 8664, 8976, 9300, 9552]
s5692 = [248, 656, 992, 1448, 2168, 2372, 2564, 2708, 2900, 2924, 2996, 3272, 3788, 4040, 4496, 4856, 5676, 5856, 5904, 6300, 6540, 7812, 8064, 8208, 8352, 9552]
s5693 = [856, 876, 968, 2972, 4232, 6168, 6840, 7656]
s5694 = [692, 2060, 2312, 3164, 6216, 7224, 7692, 8088]
s5695 = [1124, 1544, 3068, 3140, 4932, 6708, 7320, 7908, 8424]
s5696 = [20, 1088, 2552, 2744, 3308, 4040, 7380]
s5697 = [5376, 6744, 6772, 8220]
s5698 = [4004, 4460, 6084, 6936]
s5699 = [5160]
s5700 = [5712, 7920]
s5701 = [3404]

levels = list(range(5639, 5702))
samples_by_level = [
    s5639, s5640, s5641, s5642, s5643, s5644, s5645, s5646, s5647, s5648, s5649,
    s5650, s5651, s5652, s5653, s5654, s5655, s5656, s5657, s5658, s5659, s5660,
    s5661, s5662, s5663, s5664, s5665, s5666, s5667, s5668, s5669, s5670, s5671,
    s5672, s5673, s5674, s5675, s5676, s5677, s5678, s5679, s5680, s5681, s5682,
    s5683, s5684, s5685, s5686, s5687, s5688, s5689, s5690, s5691, s5692, s5693,
    s5694, s5695, s5696, s5697, s5698, s5699, s5700, s5701,
]

x = []
y = []
for level, samples in zip(levels, samples_by_level):
    x.extend(samples)
    y.extend([level] * len(samples))

fig, ax = plt.subplots(figsize=(10, 10), dpi=100)
ax.scatter(x, y, s=15, c="black", linewidths=0, zorder=2,
           label="Samples\n$\\mu$ = 5670.87, $\\sigma$ = 9.04")
ax.set_xlim(-492, 10342)
ax.set_ylim(5635.9, 5704.1)
ax.set_title("Run 528, channel098, Pedestal")
ax.set_xlabel("Sample #")
ax.set_ylabel("ADC Counts")
ax.grid(True)
ax.legend(loc="upper right")
fig.subplots_adjust(left=0.081, right=0.985, top=0.965, bottom=0.059)
fig.savefig("out.png")
